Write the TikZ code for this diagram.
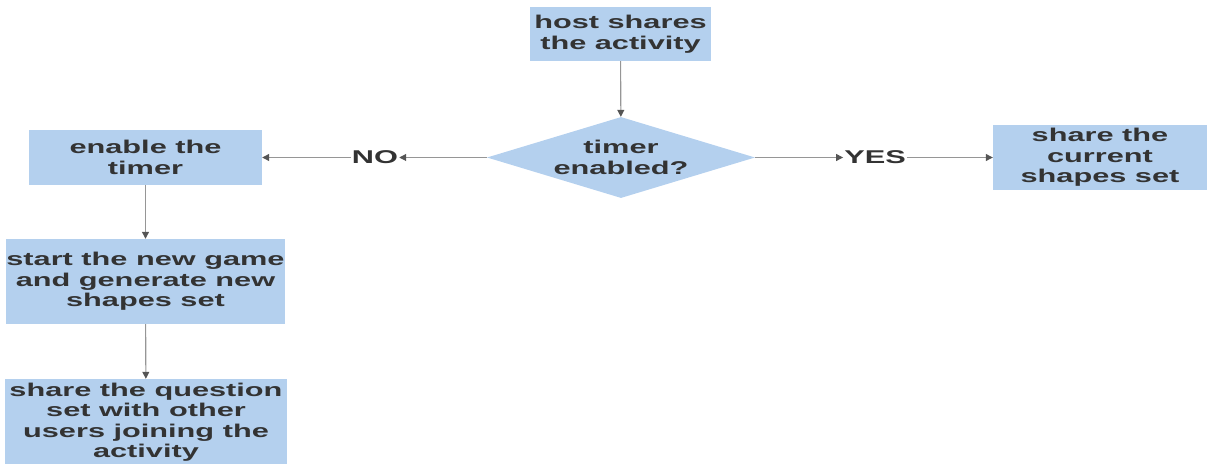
\documentclass[tikz,border=0pt]{standalone}
\usepackage{fontspec}
\setmainfont{Liberation Sans}[FakeStretch=1.66]
\usetikzlibrary{shapes.geometric,arrows.meta}
\definecolor{boxblue}{RGB}{180,208,238}
\definecolor{txtgray}{RGB}{51,51,51}
\definecolor{linegray}{RGB}{150,150,150}
\definecolor{tipgray}{RGB}{85,85,85}
\tikzset{
	stepbox/.style={fill=boxblue, inner sep=0pt, align=center, text=txtgray},
	choice/.style={diamond, fill=boxblue, inner sep=0pt, aspect=3.3, align=center, text=txtgray, minimum width=268pt, minimum height=81pt},
	lbl/.style={inner sep=1pt, text=txtgray},
	flow/.style={draw=linegray, line width=1.1pt, -{Triangle[length=7pt,width=7pt,color=tipgray]}}
}
\begin{document}
\begin{tikzpicture}[x=1pt,y=1pt,font=\bfseries\fontsize{18.5}{20.5}\selectfont]
				\useasboundingbox (0,0) rectangle (1207,463);
				\clip (0,0) rectangle (1207,463);
				\coordinate (c0) at (620.5,429);
				\coordinate (c1) at (621,305.5);
				\coordinate (c2) at (145.5,305.5);
				\coordinate (c3) at (145.5,181.5);
				\coordinate (c4) at (146,41);
				\coordinate (c5) at (1100,305.5);
				%
				\node[stepbox, minimum width=181pt, minimum height=54pt] (host) at (c0) {host shares\\the activity};
				\node[choice] (timer) at (c1) {timer\\enabled?};
				\node[stepbox, minimum width=233pt, minimum height=55pt] (enable) at (c2) {enable the\\timer};
				\node[stepbox, minimum width=279pt, minimum height=85pt] (start) at (c3) {start the new game\\and generate new\\shapes set};
				\node[stepbox, minimum width=282pt, minimum height=86pt] (share) at (c4) {share the question\\set with other\\users joining the\\activity};
				\node[stepbox, minimum width=214pt, minimum height=65pt] (current) at (c5) {share the\\current\\shapes set};
				\node[lbl] (no) at (375,305.5) {NO};
				\node[lbl] (yes) at (875,305.5) {YES};
				%
				\draw[flow] (host) -- (timer);
				\draw[flow] (timer) -- (no);
				\draw[flow] (no) -- (enable);
				\draw[flow] (timer) -- (yes);
				\draw[flow] (yes) -- (current);
				\foreach \a/\b in {enable/start,start/share}
				\draw[flow] (\a) -- (\b);
			\end{tikzpicture}
\end{document}
